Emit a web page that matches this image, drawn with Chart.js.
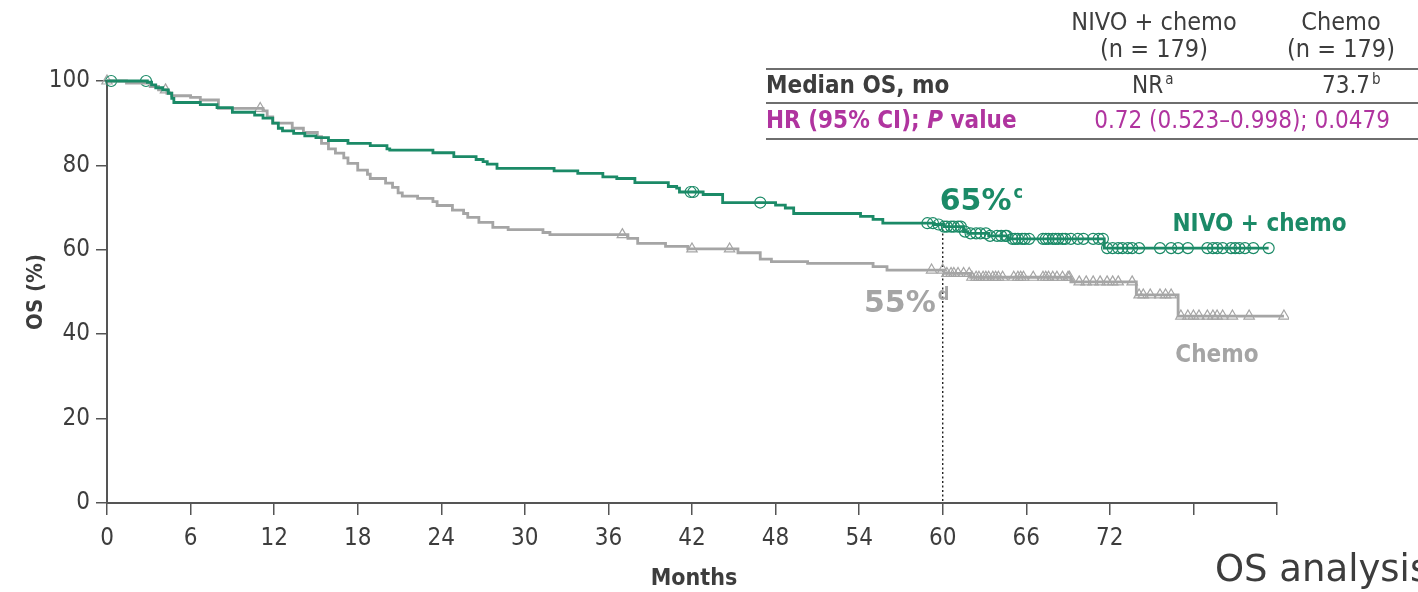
<!DOCTYPE html>
<html>
<head>
<meta charset="utf-8">
<script src="https://cdn.jsdelivr.net/npm/chart.js@4"></script>
<style>
  html, body { margin: 0; padding: 0; background: #fff; }
  #osChart { display: block; }
</style>
</head>
<body>
<canvas id="osChart" width="1418" height="592"></canvas>
<script>
// Kaplan-Meier steps: month of each drop and the OS (%) after it
const nivoTime = [0, 2.9, 3.2, 3.5, 4.0, 4.4, 4.65, 4.8, 6.7, 7.9, 9.0, 10.6, 11.2, 11.9, 12.3, 12.6, 13.4, 14.2, 15.0, 15.9, 17.3, 18.9, 20.1, 20.3, 23.4, 24.9, 26.5, 27.0, 27.3, 28.0, 32.1, 33.8, 35.6, 36.6, 37.9, 40.3, 40.9, 41.1, 42.8, 44.2, 48.0, 48.7, 49.3, 54.1, 55.0, 55.7, 59.4, 60.1, 61.5, 61.8, 63.3, 64.7, 71.6, 83.4];
const nivoSurv = [100, 99.7, 99.1, 98.4, 97.9, 97.1, 95.9, 94.9, 94.4, 93.7, 92.6, 91.9, 91.2, 90.0, 88.8, 88.2, 87.6, 87.0, 86.6, 85.9, 85.2, 84.7, 83.9, 83.6, 83.0, 82.1, 81.4, 80.9, 80.3, 79.3, 78.7, 78.1, 77.3, 76.9, 75.9, 75.0, 74.6, 73.7, 73.1, 71.2, 70.6, 69.9, 68.6, 67.9, 67.2, 66.3, 66.0, 65.5, 64.3, 63.9, 63.3, 62.6, 60.4, 60.4];
const chemoTime = [0, 1.4, 3.1, 3.7, 4.3, 4.65, 6.0, 6.7, 8.0, 11.2, 11.5, 11.9, 13.3, 14.1, 15.1, 15.4, 15.9, 16.4, 17.0, 17.3, 18.0, 18.7, 18.9, 20.0, 20.5, 20.9, 21.2, 22.3, 23.4, 23.7, 24.8, 25.6, 25.9, 26.7, 27.7, 28.8, 31.3, 31.8, 37.4, 38.1, 40.1, 41.7, 45.3, 46.9, 47.7, 50.3, 55.0, 56.0, 60.1, 62.0, 69.2, 73.9, 76.9, 84.5];
const chemoSurv = [100, 99.5, 98.7, 97.9, 97.1, 96.5, 96.1, 95.5, 93.5, 92.9, 91.5, 90.0, 88.8, 87.8, 86.8, 85.2, 83.9, 82.9, 81.8, 80.5, 78.9, 77.9, 76.9, 75.8, 74.8, 73.5, 72.7, 72.2, 71.4, 70.5, 69.4, 68.6, 67.7, 66.5, 65.3, 64.8, 64.1, 63.6, 62.7, 61.5, 60.8, 60.2, 59.3, 57.8, 57.2, 56.8, 56.0, 55.2, 54.4, 53.5, 52.4, 49.3, 44.3, 44.3];

// censoring marks (months)
const nivoCensor = [0.3, 2.8, 41.9, 42.1, 46.9, 58.9, 59.3, 59.7, 60.1, 60.3, 60.6, 60.8, 61.1, 61.3, 61.6, 62.0, 62.4, 62.7, 63.1, 63.4, 63.9, 64.2, 64.5, 64.6, 65.0, 65.2, 65.4, 65.7, 65.9, 66.2, 67.2, 67.4, 67.6, 67.9, 68.1, 68.3, 68.6, 68.8, 69.2, 69.7, 70.1, 70.8, 71.2, 71.5, 71.8, 72.2, 72.6, 72.9, 73.3, 73.6, 74.1, 75.6, 76.4, 76.9, 77.6, 79.0, 79.4, 79.7, 80.1, 80.7, 81.0, 81.3, 81.7, 82.3, 83.4];
const chemoCensor = [0.0, 4.2, 11.0, 37.0, 42.0, 44.7, 59.2, 60.0, 60.3, 60.6, 60.8, 61.1, 61.5, 61.9, 62.1, 62.4, 62.6, 62.9, 63.1, 63.3, 63.6, 63.8, 64.0, 64.3, 65.1, 65.4, 65.6, 65.8, 66.5, 67.2, 67.4, 67.6, 67.9, 68.2, 68.6, 69.0, 69.1, 69.8, 70.3, 70.8, 71.3, 71.8, 72.2, 72.6, 73.6, 74.1, 74.4, 74.9, 75.6, 76.0, 76.4, 77.1, 77.6, 78.0, 78.4, 79.0, 79.4, 79.7, 80.1, 80.8, 82.0, 84.5];

const xTicksMax = 84;
const xLabelMax = 72;
const landmarkMonth = 60;
const landmarkNivo = '65%';
const landmarkChemo = '55%';

const tableHeader = ['NIVO + chemo', 'Chemo'];
const tableN = ['(n = 179)', '(n = 179)'];
const medianOS = [['NR', 'a'], ['73.7', 'b']];
const hrText = '0.72 (0.523\u20130.998); 0.0479';

const GREEN = '#1b8a67';
const GRAY = '#a5a5a5';
const MAGENTA = '#b0349f';
const TEXT = '#3d3d3d';
const FONT = '"DejaVu Sans Condensed", "DejaVu Sans", sans-serif';
const WIDE = '"DejaVu Sans", sans-serif';

function survAt(times, surv, t) {
    let v = surv[0];
    for (let i = 0; i < times.length; i++) {
        if (times[i] <= t) v = surv[i];
    }
    return v;
}

const toPoints = (times, surv) => times.map((t, i) => ({ x: t, y: surv[i] }));
const censorPoints = (marks, times, surv) => marks.map((t) => ({ x: t, y: survAt(times, surv, t) }));

function superText(ctx, base, sup, x, y, size, align) {
    ctx.font = 'bold ' + size + 'px ' + WIDE;
    const w = ctx.measureText(base).width;
    let left = x;
    if (align === 'right') left = x - w;
    ctx.textAlign = 'left';
    ctx.fillText(base, left, y);
    ctx.font = 'bold ' + Math.round(size * 0.6) + 'px ' + FONT;
    ctx.fillText(sup, left + w + 2, y - size * 0.4);
}

const annotations = {
    id: 'annotations',
    beforeDatasetsDraw(chart) {
        const { ctx, scales: { x, y } } = chart;
        // dotted landmark line at 60 months
        ctx.save();
        ctx.strokeStyle = '#222';
        ctx.lineWidth = 1.4;
        ctx.setLineDash([2, 2.5]);
        ctx.beginPath();
        ctx.moveTo(x.getPixelForValue(landmarkMonth), y.getPixelForValue(survAt(nivoTime, nivoSurv, landmarkMonth)));
        ctx.lineTo(x.getPixelForValue(landmarkMonth), y.getPixelForValue(0));
        ctx.stroke();
        ctx.restore();
    },
    afterDraw(chart) {
        const { ctx, scales: { x, y } } = chart;
        ctx.save();
        ctx.textBaseline = 'alphabetic';

        // axis titles
        ctx.fillStyle = TEXT;
        ctx.font = 'bold 22px ' + FONT;
        ctx.textAlign = 'center';
        ctx.save();
        ctx.translate(42, (y.top + y.bottom) / 2);
        ctx.rotate(-Math.PI / 2);
        ctx.fillText('OS (%)', 0, 0);
        ctx.restore();
        ctx.font = 'bold 23px ' + FONT;
        ctx.fillText('Months', 694, 585);

        // landmark percentages
        ctx.fillStyle = GREEN;
        superText(ctx, landmarkNivo, 'c', x.getPixelForValue(landmarkMonth) - 3, y.getPixelForValue(69.5), 30, 'left');
        ctx.fillStyle = GRAY;
        superText(ctx, landmarkChemo, 'd', x.getPixelForValue(landmarkMonth) - 7, y.getPixelForValue(45.3), 30, 'right');

        // curve labels
        ctx.textAlign = 'left';
        ctx.font = 'bold 24px ' + FONT;
        ctx.fillStyle = GREEN;
        ctx.fillText('NIVO + chemo', x.getPixelForValue(76.5), y.getPixelForValue(64.5));
        ctx.fillStyle = GRAY;
        ctx.fillText('Chemo', x.getPixelForValue(76.7), y.getPixelForValue(33.5));

        // summary table
        const colX = [1154, 1341];
        ctx.fillStyle = TEXT;
        ctx.font = '25px ' + FONT;
        ctx.textAlign = 'center';
        tableHeader.forEach((h, i) => ctx.fillText(h, colX[i], 30));
        tableN.forEach((n, i) => ctx.fillText(n, colX[i], 57));

        ctx.strokeStyle = '#6e6e6e';
        ctx.lineWidth = 2;
        [69, 103, 139].forEach((ly) => {
            ctx.beginPath();
            ctx.moveTo(766, ly);
            ctx.lineTo(1418, ly);
            ctx.stroke();
        });

        ctx.textAlign = 'left';
        ctx.font = 'bold 24px ' + FONT;
        ctx.fillText('Median OS, mo', 766, 93);
        medianOS.forEach((m, i) => {
            const left = [1132, 1322][i];
            ctx.font = '24px ' + FONT;
            const w = ctx.measureText(m[0]).width;
            ctx.fillText(m[0], left, 93);
            ctx.font = '15px ' + FONT;
            ctx.fillText(m[1], left + w + 2, 84);
        });

        ctx.fillStyle = MAGENTA;
        ctx.font = 'bold 24px ' + FONT;
        let hx = 766;
        ctx.fillText('HR (95% CI); ', hx, 128);
        hx += ctx.measureText('HR (95% CI); ').width;
        ctx.font = 'italic bold 24px ' + FONT;
        ctx.fillText('P', hx, 128);
        hx += ctx.measureText('P').width;
        ctx.font = 'bold 24px ' + FONT;
        ctx.fillText(' value', hx, 128);
        ctx.font = '24px ' + FONT;
        ctx.textAlign = 'right';
        ctx.fillText(hrText, 1390, 128);

        // panel title, cut at the right edge like the source slide
        ctx.fillStyle = TEXT;
        ctx.textAlign = 'left';
        ctx.font = '37px ' + WIDE;
        ctx.fillText('OS analysis', 1215, 581);
        ctx.restore();
    },
};

const ctx = document.getElementById('osChart');
new Chart(ctx, {
    type: 'line',
    data: {
        datasets: [
            {
                label: 'NIVO + chemo',
                data: toPoints(nivoTime, nivoSurv),
                borderColor: GREEN,
                borderWidth: 2.8,
                stepped: 'before',
                pointRadius: 0,
                clip: 6,
            },
            {
                label: 'Chemo',
                data: toPoints(chemoTime, chemoSurv),
                borderColor: GRAY,
                borderWidth: 2.8,
                stepped: 'before',
                pointRadius: 0,
                clip: 12,
            },
            {
                label: 'NIVO censored',
                data: censorPoints(nivoCensor, nivoTime, nivoSurv),
                showLine: false,
                pointStyle: 'circle',
                pointRadius: 5.5,
                pointBorderWidth: 1.2,
                pointBorderColor: GREEN,
                pointBackgroundColor: 'rgba(255,255,255,0)',
                clip: 12,
            },
            {
                label: 'Chemo censored',
                data: censorPoints(chemoCensor, chemoTime, chemoSurv),
                showLine: false,
                pointStyle: 'triangle',
                pointRadius: 6,
                pointBorderWidth: 1.2,
                pointBorderColor: GRAY,
                pointBackgroundColor: 'rgba(255,255,255,0)',
                clip: 12,
            },
        ],
    },
    options: {
        responsive: false,
        animation: false,
        layout: { padding: { left: 0, top: 81, right: 141, bottom: 0 } },
        plugins: { legend: { display: false }, tooltip: { enabled: false } },
        scales: {
            x: {
                type: 'linear',
                min: 0,
                max: xTicksMax,
                afterFit: (scale) => { scale.height = 89; },
                ticks: {
                    stepSize: 6,
                    color: TEXT,
                    font: { family: FONT, size: 24 },
                    padding: 9,
                    maxRotation: 0,
                    callback: (v) => (v <= xLabelMax ? v : ''),
                },
                grid: { drawOnChartArea: false, drawTicks: true, tickLength: 12, color: '#555', lineWidth: 1.5 },
                border: { display: true, color: '#555', width: 2 },
            },
            y: {
                min: 0,
                max: 100,
                afterFit: (scale) => { scale.width = 107; },
                ticks: {
                    stepSize: 20,
                    color: TEXT,
                    font: { family: FONT, size: 24 },
                    padding: 6,
                },
                grid: { drawOnChartArea: false, drawTicks: true, tickLength: 11, color: '#555', lineWidth: 1.5 },
                border: { display: true, color: '#555', width: 2 },
            },
        },
    },
    plugins: [annotations],
});
</script>
</body>
</html>
